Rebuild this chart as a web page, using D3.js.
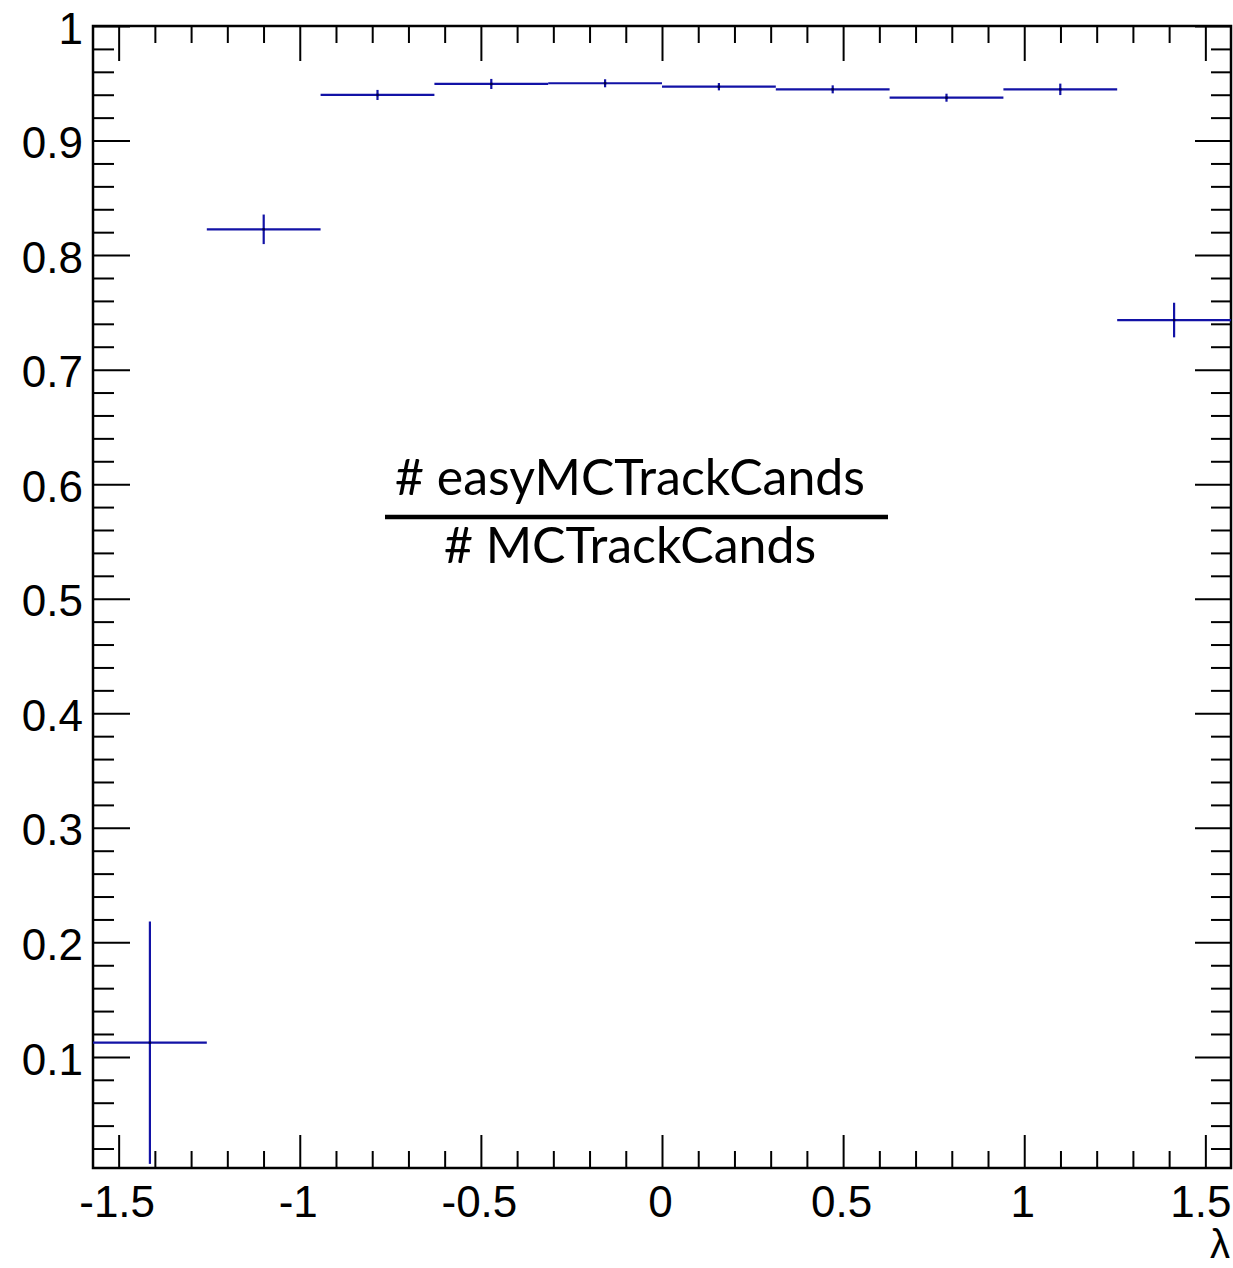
<!DOCTYPE html>
<html>
<head>
<meta charset="utf-8">
<script src="https://cdn.jsdelivr.net/npm/d3@7"></script>
<style>
  body { margin: 0; background: #fff; }
  svg { display: block; }
</style>
</head>
<body>
<div id="chart"></div>
<script>
// lambda bins (10 bins from -pi/2 to pi/2)
const binEdges = [-1.5708, -1.2566, -0.9425, -0.6283, -0.3142, 0, 0.3142, 0.6283, 0.9425, 1.2566, 1.5708]
const ratio = [0.1124, 0.8225, 0.9398, 0.9494, 0.9500, 0.9470, 0.9447, 0.9374, 0.9447, 0.7433]
const ratioErr = [0.1058, 0.0129, 0.0044, 0.0044, 0.0035, 0.0032, 0.0035, 0.0035, 0.0050, 0.0151]

const xMajor = [-1.5, -1, -0.5, 0, 0.5, 1, 1.5]
const xMinor = [-1.4, -1.3, -1.2, -1.1, -0.9, -0.8, -0.7, -0.6, -0.4, -0.3, -0.2, -0.1,
  0.1, 0.2, 0.3, 0.4, 0.6, 0.7, 0.8, 0.9, 1.1, 1.2, 1.3, 1.4]
const yMajor = [0.1, 0.2, 0.3, 0.4, 0.5, 0.6, 0.7, 0.8, 0.9, 1]
const yMinor = [0.02, 0.04, 0.06, 0.08, 0.12, 0.14, 0.16, 0.18, 0.22, 0.24, 0.26, 0.28,
  0.32, 0.34, 0.36, 0.38, 0.42, 0.44, 0.46, 0.48, 0.52, 0.54, 0.56, 0.58,
  0.62, 0.64, 0.66, 0.68, 0.72, 0.74, 0.76, 0.78, 0.82, 0.84, 0.86, 0.88,
  0.92, 0.94, 0.96, 0.98]

const numText = "# easyMCTrackCands"
const denText = "# MCTrackCands"
const xTitle = "λ"

const W = 1233, H = 1268
const frameL = 93, frameR = 1231, frameT = 26, frameB = 1168
const lineColor = "#1212a6"
const labelFont = "'Liberation Sans', Arial, Helvetica, sans-serif"

const x = d3.scaleLinear().domain([-1.5708, 1.5708]).range([frameL, frameR])
const y = d3.scaleLinear().domain([0.003, 1]).range([frameB, frameT])

const svg = d3.select("#chart").append("svg")
  .attr("width", W).attr("height", H)
  .style("background", "#fff")

// frame
svg.append("rect")
  .attr("x", frameL).attr("y", frameT)
  .attr("width", frameR - frameL).attr("height", frameB - frameT)
  .attr("fill", "none").attr("stroke", "#000").attr("stroke-width", 2.5)

function styleAxis(g) {
  g.select(".domain").remove()
  g.selectAll(".tick line").attr("stroke", "#000").attr("stroke-width", 2)
  g.selectAll("text")
    .attr("fill", "#000")
    .style("font-family", labelFont)
    .style("font-size", "44px")
}

// bottom axis with inward ticks
const xAxisG = svg.append("g")
  .attr("transform", `translate(0,${frameB})`)
  .call(d3.axisBottom(x).tickValues(xMajor).tickSize(-33).tickPadding(18).tickFormat((d) => String(d)))
  .call(styleAxis)
xAxisG.selectAll("text").attr("dx", -2)
// keep the last label inside the picture
xAxisG.selectAll(".tick").each(function (d) {
  const t = d3.select(this).select("text")
  const b = t.node().getBBox()
  const right = x(d) + b.x + b.width
  if (right > W - 2) t.attr("dx", -2 - (right - (W - 2)))
})
svg.append("g")
  .attr("transform", `translate(0,${frameB})`)
  .call(d3.axisBottom(x).tickValues(xMinor).tickSize(-17).tickFormat(""))
  .call(styleAxis)
// top mirrored ticks
svg.append("g")
  .attr("transform", `translate(0,${frameT})`)
  .call(d3.axisTop(x).tickValues(xMajor).tickSize(-35).tickFormat(""))
  .call(styleAxis)
svg.append("g")
  .attr("transform", `translate(0,${frameT})`)
  .call(d3.axisTop(x).tickValues(xMinor).tickSize(-17).tickFormat(""))
  .call(styleAxis)

// left axis
const yAxisG = svg.append("g")
  .attr("transform", `translate(${frameL},0)`)
  .call(d3.axisLeft(y).tickValues(yMajor).tickSize(-37).tickPadding(10).tickFormat((d) => String(d)))
  .call(styleAxis)
yAxisG.selectAll("text").attr("dy", "0.39em")
svg.append("g")
  .attr("transform", `translate(${frameL},0)`)
  .call(d3.axisLeft(y).tickValues(yMinor).tickSize(-21).tickFormat(""))
  .call(styleAxis)
// right mirrored ticks
svg.append("g")
  .attr("transform", `translate(${frameR},0)`)
  .call(d3.axisRight(y).tickValues(yMajor).tickSize(-36).tickFormat(""))
  .call(styleAxis)
svg.append("g")
  .attr("transform", `translate(${frameR},0)`)
  .call(d3.axisRight(y).tickValues(yMinor).tickSize(-20).tickFormat(""))
  .call(styleAxis)

// x title
svg.append("text")
  .attr("x", frameR - 1)
  .attr("y", 1258)
  .attr("text-anchor", "end")
  .style("font-family", labelFont)
  .style("font-size", "40px")
  .attr("fill", "#000")
  .text(xTitle)

// histogram points with errors
const bins = ratio.map((v, i) => ({
  lo: binEdges[i], hi: binEdges[i + 1],
  c: (binEdges[i] + binEdges[i + 1]) / 2,
  v, e: ratioErr[i]
}))

const plot = svg.append("g")
plot.selectAll("line.h")
  .data(bins)
  .enter()
  .append("line")
  .attr("class", "h")
  .attr("x1", (d) => x(d.lo))
  .attr("x2", (d) => x(d.hi))
  .attr("y1", (d) => y(d.v))
  .attr("y2", (d) => y(d.v))
  .attr("stroke", lineColor)
  .attr("stroke-width", 2.2)

plot.selectAll("line.v")
  .data(bins)
  .enter()
  .append("line")
  .attr("class", "v")
  .attr("x1", (d) => x(d.c))
  .attr("x2", (d) => x(d.c))
  .attr("y1", (d) => y(Math.min(1, d.v + d.e)))
  .attr("y2", (d) => y(Math.max(0.003, d.v - d.e)))
  .attr("stroke", lineColor)
  .attr("stroke-width", 2.2)

plot.selectAll("rect.m")
  .data(bins)
  .enter()
  .append("rect")
  .attr("class", "m")
  .attr("x", (d) => x(d.c) - 1.2)
  .attr("y", (d) => y(d.v) - 1.2)
  .attr("width", 2.4)
  .attr("height", 2.4)
  .attr("fill", "#000040")

// fraction label
const fracFont = "'Gill Sans', 'Gill Sans MT', Lato, 'Open Sans', sans-serif"
const cx = 630
const num = svg.append("text")
  .attr("x", cx).attr("y", 495)
  .attr("text-anchor", "middle")
  .style("font-family", fracFont)
  .style("font-size", "47px")
  .attr("fill", "#000")
  .text(numText)
const w0 = num.node().getComputedTextLength()
const fs = 47 * 470 / w0
num.style("font-size", fs + "px")

svg.append("line")
  .attr("x1", 385).attr("x2", 888)
  .attr("y1", 517).attr("y2", 517)
  .attr("stroke", "#000").attr("stroke-width", 4.5)

svg.append("text")
  .attr("x", cx).attr("y", 563)
  .attr("text-anchor", "middle")
  .style("font-family", fracFont)
  .style("font-size", fs + "px")
  .attr("fill", "#000")
  .text(denText)
</script>
</body>
</html>
